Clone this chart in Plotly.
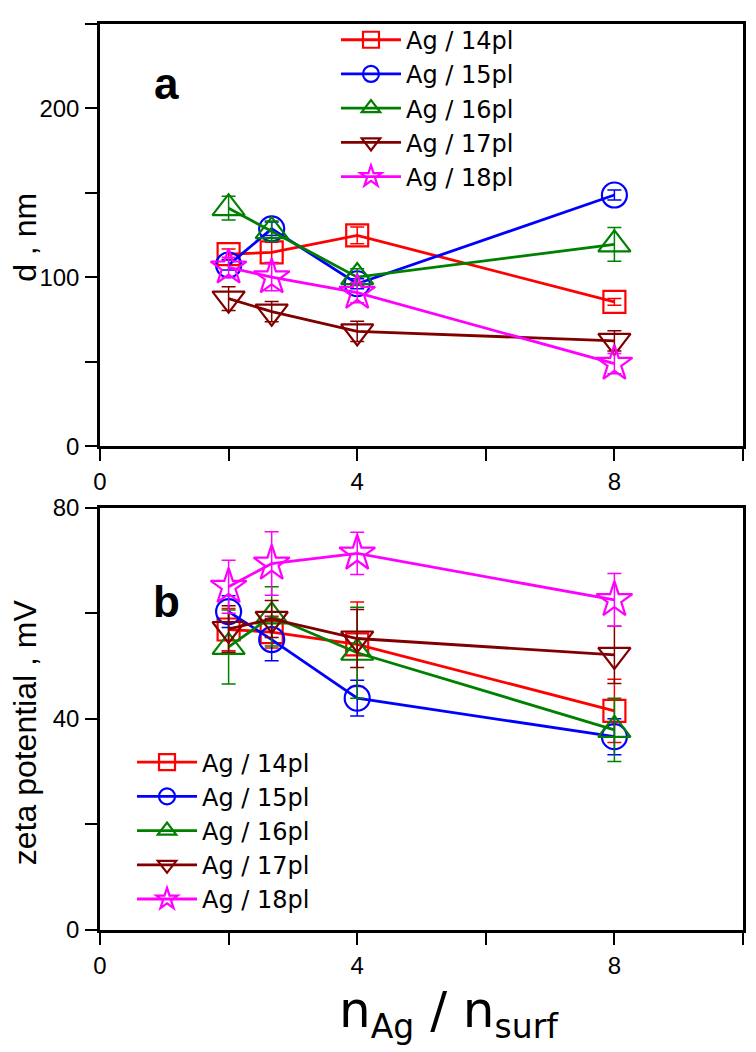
import plotly.graph_objects as go

# ---------------- data ----------------
x_ratio = [2, 2.67, 4, 8]
series_names = ["Ag / 14pl", "Ag / 15pl", "Ag / 16pl", "Ag / 17pl", "Ag / 18pl"]

# panel a: particle size d (nm)
d_14pl = [113.8, 114.8, 124.9, 85.6]
d_15pl = [107.4, 128.8, 96.3, 148.8]
d_16pl = [141.0, 127.4, 100.2, 119.6]
d_17pl = [87.5, 79.8, 68.1, 62.5]
d_18pl = [106.0, 100.2, 91.0, 49.0]
d_err_14pl = [3, 6, 5, 2]
d_err_15pl = [3, 4, 3, 3]
d_err_16pl = [7, 6, 5, 10]
d_err_17pl = [7, 6, 6, 6]
d_err_18pl = [6, 8, 6, 6]

# panel b: zeta potential (mV)
z_14pl = [56.9, 56.4, 54.1, 41.5]
z_15pl = [60.3, 55.0, 43.9, 36.6]
z_16pl = [53.6, 59.4, 52.5, 37.9]
z_17pl = [57.0, 58.9, 55.2, 52.1]
z_18pl = [65.0, 69.4, 71.3, 62.5]
z_err_14pl = [4, 3, 8, 6]
z_err_15pl = [3, 4, 3.4, 3.4]
z_err_16pl = [7, 5.6, 8.6, 6]
z_err_17pl = [4.4, 3.5, 5.5, 5.4]
z_err_18pl = [5, 6, 4, 5]

x_tickvals = [0, 4, 8]
x_ticktext = ["0", "4", "8"]
x_minorvals = [2, 6, 10]
d_tickvals = [0, 100, 200]
d_ticktext = ["0", "100", "200"]
d_minorvals = [50, 150, 250]
z_tickvals = [0, 40, 80]
z_ticktext = ["0", "40", "80"]
z_minorvals = [20, 60]

# ---------------- style ----------------
colors = ["#FF0000", "#0000FF", "#008000", "#800000", "#FF00FF"]
symbols = ["square-open", "circle-open", "triangle-up-open", "triangle-down-open", "star-open"]
sizes = [22, 25, 28, 28, 27]
FONT = "Liberation Sans, Arial, sans-serif"
WIDE_FONT = "DejaVu Sans, Liberation Sans, sans-serif"

d_values = [d_14pl, d_15pl, d_16pl, d_17pl, d_18pl]
d_errors = [d_err_14pl, d_err_15pl, d_err_16pl, d_err_17pl, d_err_18pl]
z_values = [z_14pl, z_15pl, z_16pl, z_17pl, z_18pl]
z_errors = [z_err_14pl, z_err_15pl, z_err_16pl, z_err_17pl, z_err_18pl]

fig = go.Figure()

for i, name in enumerate(series_names):
    fig.add_trace(go.Scatter(
        x=x_ratio, y=d_values[i], name=name, mode="lines+markers",
        line=dict(color=colors[i], width=2.8),
        marker=dict(symbol=symbols[i], size=sizes[i], color=colors[i],
                    line=dict(width=2.2, color=colors[i])),
        error_y=dict(type="data", array=d_errors[i], color=colors[i],
                     thickness=1.5, width=7),
        xaxis="x2", yaxis="y2", legend="legend",
    ))

for i, name in enumerate(series_names):
    fig.add_trace(go.Scatter(
        x=x_ratio, y=z_values[i], name=name, mode="lines+markers",
        line=dict(color=colors[i], width=2.8),
        marker=dict(symbol=symbols[i], size=sizes[i], color=colors[i],
                    line=dict(width=2.2, color=colors[i])),
        error_y=dict(type="data", array=z_errors[i], color=colors[i],
                     thickness=1.5, width=7),
        xaxis="x", yaxis="y", legend="legend2",
    ))

axis_common = dict(
    showline=True, linecolor="black", linewidth=2.5, mirror=True,
    ticks="outside", ticklen=12, tickwidth=2, tickcolor="black",
    showgrid=False, zeroline=False,
    tickfont=dict(family=FONT, size=24, color="black"),
)


def minor(vals):
    return dict(tickvals=vals, ticks="outside", ticklen=12, tickwidth=2,
                tickcolor="black", showgrid=False)


fig.update_layout(
    width=756, height=1052,
    margin=dict(l=92, r=21, t=2, b=130),
    paper_bgcolor="white", plot_bgcolor="white",
    font=dict(family=FONT, color="black"),
    xaxis=dict(range=[0, 10], tickmode="array", tickvals=x_tickvals, ticktext=x_ticktext,
               minor=minor(x_minorvals), domain=[0, 1], anchor="y", **axis_common),
    yaxis=dict(range=[0, 80], tickmode="array", tickvals=z_tickvals, ticktext=z_ticktext,
               minor=minor(z_minorvals), ticklabelstandoff=1,
               domain=[0, 0.4663], anchor="x", **axis_common),
    xaxis2=dict(range=[0, 10], tickmode="array", tickvals=x_tickvals, ticktext=x_ticktext,
                minor=minor(x_minorvals), domain=[0, 1], anchor="y2", **axis_common),
    yaxis2=dict(range=[0, 250], tickmode="array", tickvals=d_tickvals, ticktext=d_ticktext,
                minor=minor(d_minorvals), ticklabelstandoff=1,
                domain=[0.5337, 1], anchor="x2", **axis_common),
    legend=dict(x=0.367, y=1.007, xanchor="left", yanchor="top",
                bgcolor="rgba(0,0,0,0)", itemwidth=60,
                font=dict(family=WIDE_FONT, size=24, color="black")),
    legend2=dict(x=0.0498, y=0.2096, xanchor="left", yanchor="top",
                 bgcolor="rgba(0,0,0,0)", itemwidth=60,
                 font=dict(family=WIDE_FONT, size=24, color="black")),
    showlegend=True,
    annotations=[
        dict(text="<b>a</b>", x=1.03, y=215, xref="x2", yref="y2",
             xanchor="center", yanchor="middle", showarrow=False,
             font=dict(family=FONT, size=44, color="black")),
        dict(text="<b>b</b>", x=1.03, y=62.2, xref="x", yref="y",
             xanchor="center", yanchor="middle", showarrow=False,
             font=dict(family=FONT, size=44, color="black")),
        dict(text="d , nm", x=-0.1166, y=0.764, xref="paper", yref="paper",
             xanchor="center", yanchor="middle", textangle=-90, showarrow=False,
             font=dict(family=FONT, size=32, color="black")),
        dict(text="zeta potential , mV", x=-0.1166, y=0.2183, xref="paper", yref="paper",
             xanchor="center", yanchor="middle", textangle=-90, showarrow=False,
             font=dict(family=FONT, size=32, color="black")),
        dict(text='n<sub><span style="font-size:33px">Ag</span></sub> / '
                  'n<sub><span style="font-size:33px">surf</span></sub>',
             x=0.3686, y=-0.092, xref="paper", yref="paper",
             xanchor="left", yanchor="middle", showarrow=False,
             font=dict(family=WIDE_FONT, size=50, color="black")),
    ],
)

fig.write_html("out.html")
